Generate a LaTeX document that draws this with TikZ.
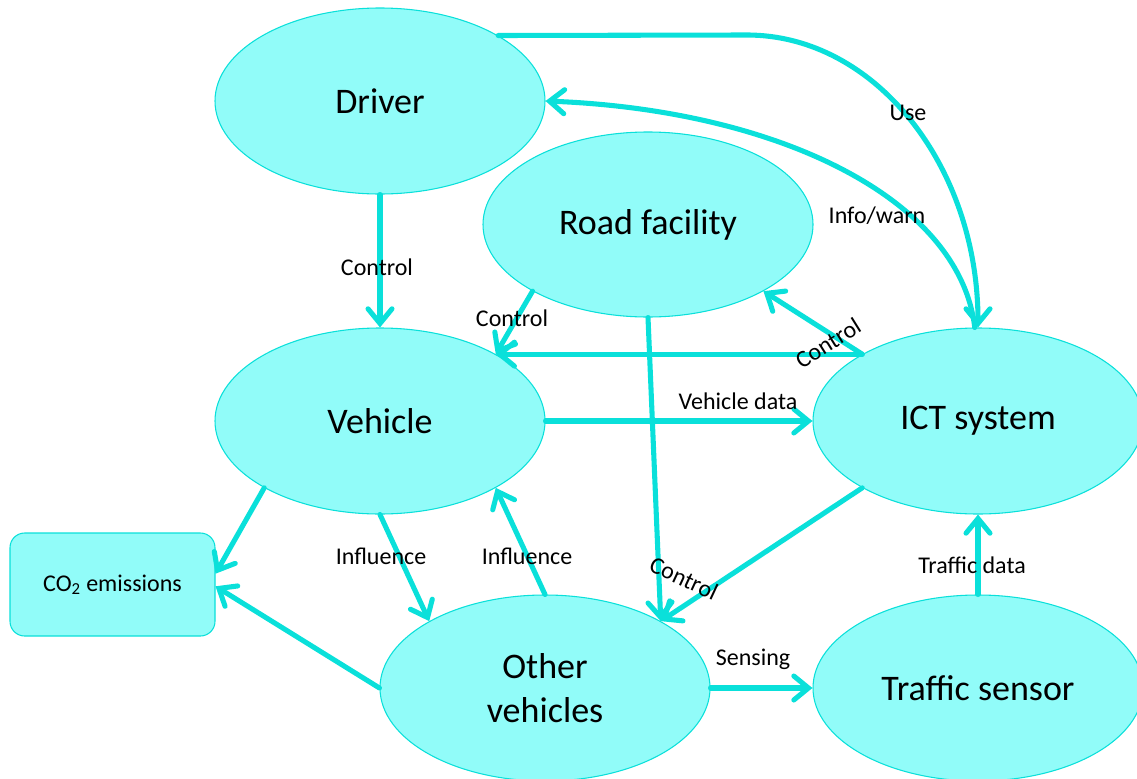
\documentclass[tikz,border=0pt]{standalone}
\usepackage{fontspec}
\setmainfont{Carlito}
\usetikzlibrary{arrows.meta,shapes.geometric}
\definecolor{cfill}{RGB}{145,252,249}
\definecolor{cline}{RGB}{10,224,218}
\begin{document}
\begin{tikzpicture}[x=0.75pt,y=-0.75pt,
  ell/.style={ellipse, draw=cline, line width=0.8pt, fill=cfill, minimum width=247.5pt, minimum height=139.5pt, inner sep=0pt, font=\fontsize{27}{33}\selectfont, align=center},
  conn/.style={draw=cline, line width=3.8pt, line cap=round, -{Straight Barb[length=11pt,width=18pt,line cap=round]}},
  lbl/.style={font=\fontsize{18}{21}\selectfont, inner sep=0pt}]
\useasboundingbox (0,0) rectangle (1137,778);
\node[ell] (drv) at (380,101) {Driver};
\node[ell, minimum height=138.75pt] (road) at (648,224.5) {Road facility};
\node[ell] (veh) at (380,421) {Vehicle};
\node[ell] (ict) at (978,421) {ICT system};
\node[ell] (ov) at (545,688) {Other\\vehicles};
\node[ell] (ts) at (978,688) {Traffic sensor};
\node[draw=cline, fill=cfill, rounded corners=11pt, minimum width=153.75pt, minimum height=77.25pt, line width=0.8pt, font=\fontsize{18}{21}\selectfont] (co2) at (112.5,584.5) {CO\textsubscript{2} emissions};
\coordinate (ubend) at (747,35);
\draw[conn] (drv.29) -- (ubend) .. controls (875,35) and (978,166) .. (ict.north);
\draw[conn] (ict.92) .. controls (960,200) and (780,110) .. (drv.east);
\draw[conn] (drv.south) -- (veh.north);
\draw[conn] (road.210) -- (veh.30);
\draw[conn] (ict.150) -- (veh.30);
\draw[conn] (ict.150) -- (road.-30);
\draw[conn] (veh.east) -- (ict.west);
\draw[conn] (road.south) -- (ov.30);
\draw[conn] (ict.210) -- (ov.30);
\draw[conn] (veh.210) -- (co2.6);
\draw[conn] (ov.west) -- (co2.-1);
\draw[conn] (veh.south) -- (ov.150);
\draw[conn] (ov.north) -- (veh.-30);
\draw[conn] (ov.east) -- (ts.west);
\draw[conn] (ts.north) -- (ict.south);
\node[lbl] (lUse) at (908,113) {Use};
\node[lbl] (lInfo) at (877,216) {Info/warn};
\node[lbl] (lC1) at (377,267) {Control};
\node[lbl] (lC2) at (512,318) {Control};
\node[lbl, rotate=32] (lC3) at (828,343) {Control};
\node[lbl] (lVd) at (738,401) {Vehicle data};
\node[lbl, rotate=-25] (lC4) at (684,578) {Control};
\node[lbl] (lI1) at (381,556) {Influence};
\node[lbl] (lI2) at (527,556) {Influence};
\node[lbl] (lS) at (753,659) {Sensing};
\node[lbl] (lTd) at (972,565) {Traffic data};
\end{tikzpicture}
\end{document}
